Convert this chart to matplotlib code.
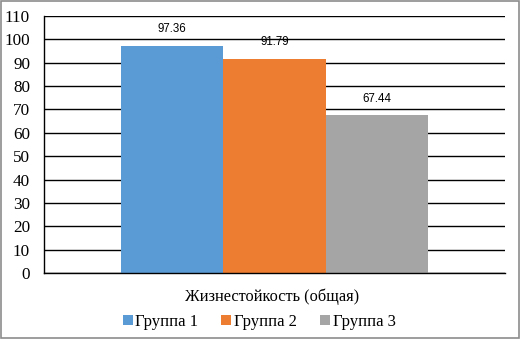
import matplotlib.pyplot as plt
from matplotlib.patches import Patch

groups = ['Группа 1', 'Группа 2', 'Группа 3']
values = [97.36, 91.79, 67.44]
colors = ['#5B9BD5', '#ED7D31', '#A5A5A5']
category = 'Жизнестойкость (общая)'
yticks = list(range(0, 111, 10))

serif = 'Liberation Serif'
sans = 'Liberation Sans'

fig = plt.figure(figsize=(5.2, 3.39), dpi=100)
ax = fig.add_axes([44/520, 1-273/339, (505-44)/520, (273-16)/339])

xs = list(range(len(values)))
bars = ax.bar(xs, values, width=1.0, color=colors, zorder=2)
for x, v in zip(xs, values):
    ax.text(x, v + 4.3, f'{v:.2f}', ha='center', va='bottom',
            fontsize=8.3, family=sans, zorder=1)

ax.set_xlim(-1.25, 3.25)
ax.set_ylim(0, 110)
ax.set_yticks(yticks)
ax.set_yticklabels([str(t) for t in yticks], family=serif, fontsize=12.3)
ax.set_xticks([])
ax.tick_params(axis='y', length=0, pad=10)
ax.grid(axis='y', color='black', linewidth=1, zorder=0)
ax.set_axisbelow(True)
for s in ['top', 'right']:
    ax.spines[s].set_visible(False)
for s in ['left', 'bottom']:
    ax.spines[s].set_color('black')
    ax.spines[s].set_linewidth(1)

fig.text(272/520, 1-297/339, category, ha='center', va='center',
         family=serif, fontsize=11.8)

handles = [Patch(facecolor=c, edgecolor='none') for c in colors]
fig.legend(handles, groups, loc='center', bbox_to_anchor=(259/520, 1-322/339),
           ncol=3, frameon=False, prop={'family': serif, 'size': 12},
           handlelength=0.6, handleheight=0.6, handletextpad=0.15,
           columnspacing=1.4)

fig.patches.append(plt.Rectangle((0.001, 0.002), 0.997, 0.996, transform=fig.transFigure,
                                 fill=False, edgecolor='#8c8c8c', linewidth=1.2))

fig.savefig('out.png', dpi=100)
